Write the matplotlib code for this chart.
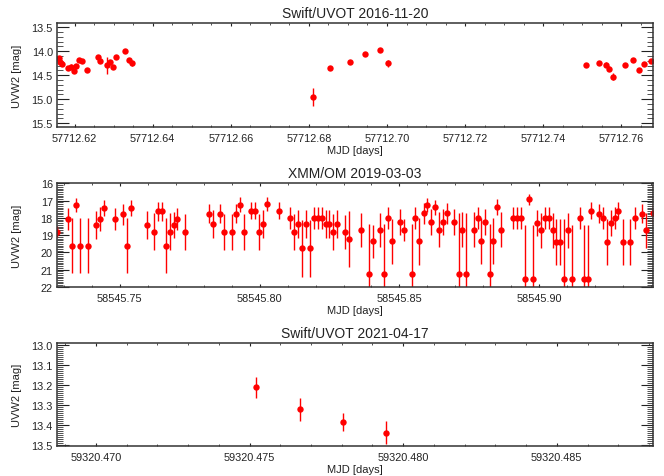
import matplotlib
matplotlib.use("Agg")
import matplotlib.pyplot as plt
from matplotlib.ticker import MultipleLocator, FormatStrFormatter

plt.rcParams['font.family'] = ['Liberation Sans', 'DejaVu Sans']

# Swift/UVOT 2016-11-20
mjd1 = [57712.6159, 57712.6162, 57712.6168, 57712.6183, 57712.6190, 57712.6199, 57712.6204,
        57712.6211, 57712.6218, 57712.6231, 57712.6259, 57712.6266, 57712.6284, 57712.6292,
        57712.6299, 57712.6307, 57712.6330, 57712.6340, 57712.6346, 57712.6810, 57712.6855,
        57712.6904, 57712.6943, 57712.6982, 57712.7003, 57712.7510, 57712.7544, 57712.7561,
        57712.7569, 57712.7579, 57712.7609, 57712.7631, 57712.7646, 57712.7657, 57712.7675]
mag1 = [14.14, 14.22, 14.27, 14.35, 14.32, 14.42, 14.30, 14.18, 14.21, 14.39, 14.13, 14.20,
        14.29, 14.23, 14.32, 14.13, 14.00, 14.18, 14.25, 14.96, 14.35, 14.22, 14.06, 13.98,
        14.25, 14.29, 14.25, 14.28, 14.36, 14.53, 14.29, 14.18, 14.39, 14.26, 14.20]
err1 = [0.04, 0.04, 0.04, 0.04, 0.05, 0.04, 0.04, 0.04, 0.04, 0.04, 0.04, 0.04, 0.18, 0.04,
        0.04, 0.04, 0.04, 0.04, 0.05, 0.19, 0.04, 0.04, 0.04, 0.04, 0.07, 0.04, 0.04, 0.05,
        0.05, 0.08, 0.04, 0.04, 0.04, 0.04, 0.04]

# XMM/OM 2019-03-03
mjd2 = [58545.7276, 58545.7317, 58545.7331, 58545.7345, 58545.7359, 58545.7387, 58545.7414,
        58545.7428, 58545.7443, 58545.7483, 58545.7512, 58545.7526, 58545.7539, 58545.7596,
        58545.7623, 58545.7636, 58545.7650, 58545.7665, 58545.7679, 58545.7693, 58545.7705,
        58545.7734, 58545.7819, 58545.7833, 58545.7859, 58545.7874, 58545.7902, 58545.7916,
        58545.7931, 58545.7944, 58545.7971, 58545.7985, 58545.7998, 58545.8013, 58545.8026,
        58545.8068, 58545.8109, 58545.8123, 58545.8137, 58545.8151, 58545.8166, 58545.8180,
        58545.8193, 58545.8208, 58545.8222, 58545.8236, 58545.8249, 58545.8263, 58545.8278,
        58545.8305, 58545.8318, 58545.8361, 58545.8390, 58545.8404, 58545.8431, 58545.8446,
        58545.8460, 58545.8475, 58545.8502, 58545.8516, 58545.8544, 58545.8557, 58545.8571,
        58545.8586, 58545.8600, 58545.8613, 58545.8627, 58545.8642, 58545.8655, 58545.8669,
        58545.8696, 58545.8711, 58545.8724, 58545.8738, 58545.8766, 58545.8780, 58545.8793,
        58545.8807, 58545.8822, 58545.8836, 58545.8849, 58545.8864, 58545.8907, 58545.8921,
        58545.8935, 58545.8950, 58545.8963, 58545.8977, 58545.8991, 58545.9006, 58545.9019,
        58545.9033, 58545.9047, 58545.9060, 58545.9074, 58545.9089, 58545.9102, 58545.9116,
        58545.9144, 58545.9158, 58545.9172, 58545.9186, 58545.9214, 58545.9228, 58545.9242,
        58545.9255, 58545.9269, 58545.9282, 58545.9298, 58545.9325, 58545.9340, 58545.9367,
        58545.9381, 58545.9406]
mag2 = [18.79, 18.05, 19.61, 17.27, 19.61, 19.61, 18.40, 18.05, 17.43, 18.05, 17.80, 19.61,
        17.43, 18.40, 18.79, 17.60, 17.60, 19.61, 18.79, 18.40, 18.05, 18.83, 17.76, 18.35,
        17.76, 18.83, 18.83, 17.76, 17.23, 18.83, 17.57, 17.57, 18.83, 18.35, 17.21, 17.57,
        18.01, 18.83, 18.35, 19.75, 18.35, 19.75, 18.01, 18.01, 18.01, 18.35, 18.35, 18.83,
        18.35, 18.83, 19.22, 18.70, 21.23, 19.36, 18.70, 21.23, 17.99, 19.36, 18.25, 18.70,
        21.23, 17.99, 19.36, 17.74, 17.23, 18.25, 17.39, 18.68, 18.25, 17.74, 18.25, 21.23,
        18.68, 21.23, 18.68, 17.99, 19.34, 18.25, 21.23, 19.34, 17.37, 18.68, 17.99, 17.99,
        17.99, 21.54, 16.92, 21.54, 18.29, 18.72, 17.99, 17.99, 18.72, 19.40, 19.40, 21.54,
        18.72, 21.54, 17.99, 21.54, 21.54, 17.57, 17.76, 17.99, 19.40, 18.29, 17.99, 17.57,
        19.40, 19.40, 17.99, 17.76, 18.72, 17.74]
err2 = [0.30, 0.65, 1.60, 0.40, 1.60, 1.60, 0.80, 0.70, 0.45, 0.65, 0.60, 1.60,
        0.45, 0.80, 1.05, 0.55, 0.55, 1.60, 1.05, 0.75, 0.65, 1.05, 0.55, 0.80,
        0.55, 1.05, 1.05, 0.55, 0.45, 1.05, 0.50, 0.50, 1.05, 0.80, 0.40, 0.50,
        0.65, 1.05, 0.80, 1.65, 0.80, 1.65, 0.65, 0.65, 0.65, 0.80, 0.80, 1.05,
        0.80, 1.00, 1.65, 1.00, 2.90, 0.95, 1.00, 2.90, 0.65, 1.30, 0.75, 0.65,
        2.90, 0.65, 1.35, 0.60, 0.40, 0.75, 0.45, 1.00, 0.75, 0.60, 0.75, 3.50,
        1.00, 3.50, 1.00, 0.65, 1.35, 0.75, 2.90, 1.35, 0.45, 1.00, 0.65, 0.65,
        0.65, 3.15, 0.30, 3.15, 0.75, 1.00, 0.65, 0.65, 1.00, 1.35, 1.35, 3.50,
        1.00, 3.15, 0.65, 3.15, 3.15, 0.50, 0.55, 0.65, 1.35, 0.75, 0.65, 0.50,
        1.35, 1.35, 0.65, 0.55, 1.00, 0.55]

# Swift/UVOT 2021-04-17
mjd3 = [59320.47522, 59320.47663, 59320.47804, 59320.47943]
mag3 = [13.213, 13.322, 13.385, 13.438]
err3 = [0.053, 0.057, 0.047, 0.056]

fig = plt.figure(figsize=(6.64, 4.77), dpi=100)

panels = [
    ("Swift/UVOT 2016-11-20", mjd1, mag1, err1, [0.0858, 0.7317, 0.8976, 0.2180],
     (57712.6155, 57712.7681), (15.58, 13.41), 0.02, 0.005, 0.5, 0.1, '%.2f', '%.1f'),
    ("XMM/OM 2019-03-03", mjd2, mag2, err2, [0.0858, 0.3962, 0.8976, 0.2181],
     (58545.7276, 58545.9406), (22.01, 15.97), 0.05, 0.01, 1.0, 0.1, '%.2f', '%d'),
    ("Swift/UVOT 2021-04-17", mjd3, mag3, err3, [0.0858, 0.0623, 0.8976, 0.2165],
     (59320.46873, 59320.48813), (13.506, 12.992), 0.005, 0.001, 0.1, 0.01, '%.3f', '%.1f'),
]

for title, x, y, e, pos, xl, yl, xmaj, xmin, ymaj, ymin, xfmt, yfmt in panels:
    ax = fig.add_axes(pos)
    ax.errorbar(x, y, yerr=e, fmt='o', color='red', ms=4.6, mew=0, elinewidth=1.0,
                capsize=0, mfc='red')
    ax.plot(x, y, 's', color='black', ms=0.8, mew=0)
    ax.set_xlim(xl)
    ax.set_ylim(yl)
    ax.xaxis.set_major_locator(MultipleLocator(xmaj))
    ax.xaxis.set_minor_locator(MultipleLocator(xmin))
    ax.yaxis.set_major_locator(MultipleLocator(ymaj))
    ax.yaxis.set_minor_locator(MultipleLocator(ymin))
    ax.xaxis.set_major_formatter(FormatStrFormatter(xfmt))
    ax.yaxis.set_major_formatter(FormatStrFormatter(yfmt))
    ax.tick_params(axis='both', which='both', direction='in', top=True, right=True,
                   labelsize=7.8, colors='#222222')
    ax.tick_params(axis='both', which='major', width=0.8)
    ax.tick_params(axis='both', which='minor', width=0.55)
    ax.tick_params(axis='y', which='major', length=8.6, pad=3)
    ax.tick_params(axis='y', which='minor', length=4.3)
    ax.tick_params(axis='x', which='major', length=2.2, pad=4)
    ax.tick_params(axis='x', which='minor', length=1.2)
    for s in ax.spines.values():
        s.set_linewidth(1.1)
        s.set_color('#333333')
    ax.set_title(title, fontsize=10, pad=4, color='#222222')
    ax.set_xlabel('MJD [days]', fontsize=8, labelpad=1.5, color='#222222')
    ax.set_ylabel('UVW2 [mag]', fontsize=8, color='#222222')
    ax.yaxis.set_label_coords(-0.059, 0.5)

fig.savefig("out.png", dpi=100)
